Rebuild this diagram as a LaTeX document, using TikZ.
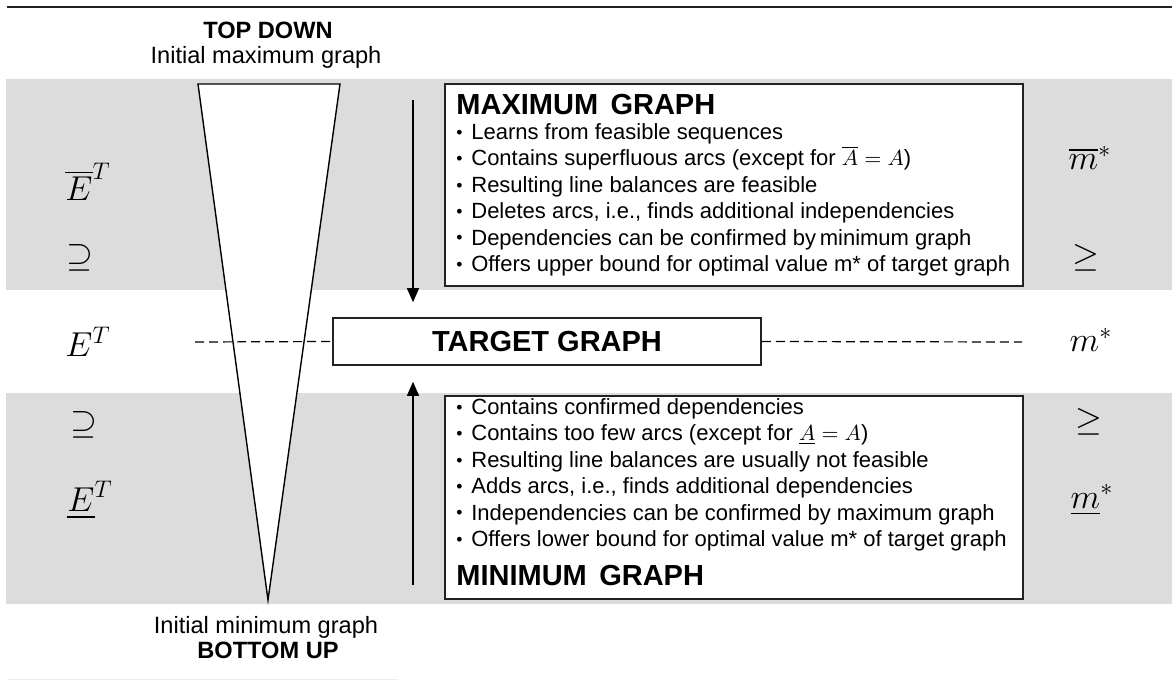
\documentclass[tikz,border=0pt]{standalone}
\usepackage{amsmath, amssymb}
\usepackage{fontspec}
\setmainfont{Liberation Sans}
\setsansfont{Liberation Sans}
\usetikzlibrary{positioning, arrows.meta, calc}
\definecolor{bandGray}{HTML}{DCDCDC}
\definecolor{lineDark}{HTML}{222222}
\tikzset{
  every node/.style={font=\sffamily, inner sep=0pt},
  arr/.style={-{Triangle[length=7pt, width=6pt]}, line width=0.6pt},
  dsh/.style={line width=0.6pt, dash pattern=on 4.5pt off 2.5pt},
  band/.style={fill=bandGray, draw=none},
  panel/.style={draw=lineDark, line width=0.8pt, fill=white, anchor=north west},
  head/.style={font=\sffamily\bfseries\fontsize{14.5}{16}\selectfont, anchor=base west},
  item/.style={font=\sffamily\fontsize{11}{12}\selectfont, anchor=base west},
  endtxt/.style={font=\sffamily\fontsize{11.8}{13}\selectfont, anchor=base},
  endbold/.style={font=\sffamily\bfseries\fontsize{11.8}{13}\selectfont, anchor=base},
  sym/.style={font=\fontsize{18}{20}\selectfont},
}
\newcommand{\itm}{\raisebox{0.1ex}{\scalebox{0.8}{\textbullet}}\hspace{0.4em}}

\begin{document}
\begin{tikzpicture}[x=0.5pt, y=-0.5pt]
  \useasboundingbox (0,0) rectangle (1172,681);
  % grey bands for the two bounds
  \fill[band] (6,79) rectangle (1172,290);
  \fill[band] (6,393) rectangle (1172,604);
  \draw[lineDark, line width=1pt] (7,7) -- (1172,7);
  \draw[black!7, line width=0.5pt] (8,679) -- (398,679);
  % the funnel
  \draw[fill=white, line width=0.7pt] (198,84) -- (340,84) -- (268,600) -- cycle;
  \node[endbold] (topdown) at (268,38) {TOP DOWN};
  \node[endtxt] (initmax) at (266,63) {Initial maximum graph};
  \node[endtxt] (initmin) at (266,633) {Initial minimum graph};
  \node[endbold] (botup) at (268,658) {BOTTOM UP};
  % target in the middle
  \node[draw=lineDark, line width=0.8pt, fill=white, minimum width=214pt, minimum height=23.5pt,
        font=\sffamily\bfseries\fontsize{14.5}{16}\selectfont] (target) at (547,341.5) {TARGET GRAPH};
  \coordinate (dl) at (195,342);
  \coordinate (dr) at (1022,342);
  \draw[dsh] (dl) -- (target.west);
  \draw[dsh] (target.east) -- (dr);
  % maximum graph
  \node[panel, minimum width=289pt, minimum height=101pt] (maxbox) at (444,83) {};
  \node[head] (maxhead) at (456,114) {MAXIMUM\hspace{0.15em} GRAPH};
  \foreach \t [count=\i] in {
      {Learns from feasible sequences},
      {Contains superfluous arcs (except for $\overline{A}=A$)},
      {Resulting line balances are feasible},
      {Deletes arcs, i.e., finds additional independencies},
      {Dependencies can be confirmed by\,minimum graph},
      {Offers upper bound for optimal value m* of target graph}}
    \node[item] (mx\i) at (456,{113+26.4*\i}) {\itm\t};
  % minimum graph
  \node[panel, minimum width=289pt, minimum height=101.5pt] (minbox) at (444,395) {};
  \foreach \t [count=\i] in {
      {Contains confirmed dependencies},
      {Contains too few arcs (except for $\underline{A}=A$)},
      {Resulting line balances are usually not feasible},
      {Adds arcs, i.e., finds additional dependencies},
      {Independencies can be confirmed by maximum graph},
      {Offers lower bound for optimal value m* of target graph}}
    \node[item] (mn\i) at (456,{388+26.4*\i}) {\itm\t};
  \node[head] (minhead) at (456,585) {MINIMUM\hspace{0.15em} GRAPH};
  % arrows towards the target
  \coordinate (dtop) at (413,100);
  \coordinate (ubot) at (413,585);
  \draw[arr, shorten >=7.5pt] (dtop) -- (dtop |- target.north);
  \draw[arr, shorten >=8pt] (ubot) -- (ubot |- target.south);
  % edge sets, left
  \node[sym] (eover) at (88,182) {$\overline{E}^{T}$};
  \node[sym] (sup1) at (80,258) {$\supseteq$};
  \node[sym] (eT) at (88,342) {$E^{T}$};
  \node[sym] (sup2) at (84,425) {$\supseteq$};
  \node[sym] (eunder) at (90,500) {$\underline{E}^{T}$};
  % station counts, right
  \node[sym] (mover) at (1090,158) {$\overline{m}^{*}$};
  \node[sym] (ge1) at (1086,258) {$\geq$};
  \node[sym] (mstar) at (1091,340) {$m^{*}$};
  \node[sym] (ge2) at (1089,422) {$\geq$};
  \node[sym] (munder) at (1092,500) {$\underline{m}^{*}$};
\end{tikzpicture}
\end{document}
